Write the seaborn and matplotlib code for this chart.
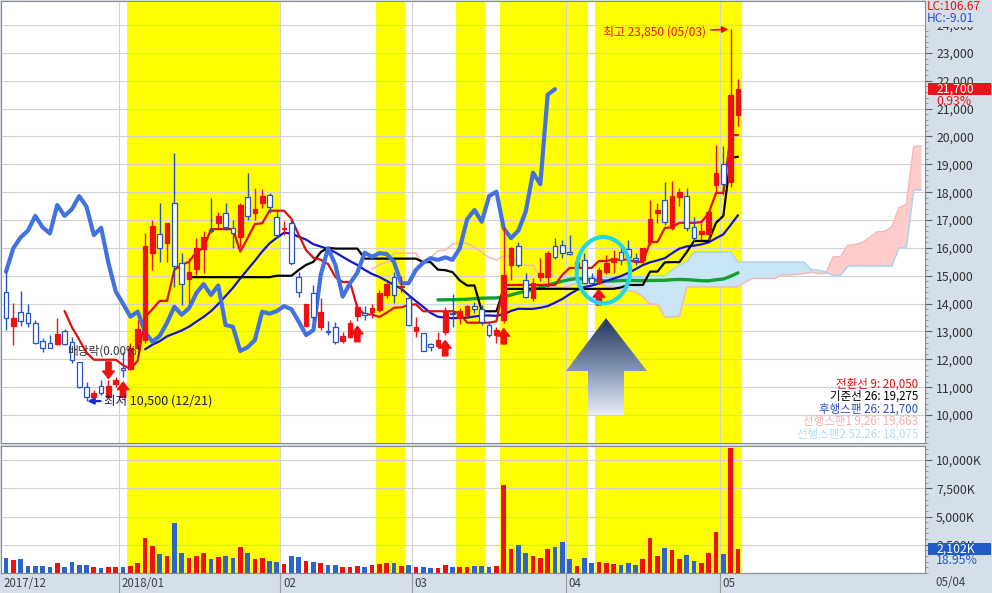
import numpy as np
import pandas as pd
import seaborn as sns
import matplotlib.pyplot as plt
import matplotlib.transforms as mtrans
from matplotlib.patches import Rectangle, Ellipse, Polygon
from matplotlib.colors import LinearSegmentedColormap
from matplotlib.ticker import AutoMinorLocator, FuncFormatter, FixedLocator

# daily candles, 2017/12/06 .. 2018/05/04 (won)
opens = [14430, 13200, 13710, 13650, 13290, 12660, 12575, 12540, 13030, 12630,
         11920, 11020, 10650, 11040, 10660, 11110, 11680, 11650, 12400, 12700,
         15810, 16490, 16190, 17600, 15470, 14870, 15230, 15950, 16660, 16890,
         17240, 16700, 16380, 17840, 17240, 17620, 17900, 17120, 16680, 16880,
         14970, 13210, 14390, 13170, 13000, 13170, 12670, 12810, 13555, 13650,
         13710, 13770, 14310, 14940, 14600, 14190, 13030, 12930, 12540, 12490,
         12990, 13660, 13470, 13590, 13910, 13800, 13230, 12870, 13410, 15390,
         16070, 14850, 14190, 14970, 14970, 16070, 16100, 15860, 15300, 15570,
         14910, 14730, 15150, 15505, 15840, 15950, 15630, 15570, 16220, 17240,
         17720, 16700, 17840, 17860, 16760, 16500, 16500, 18260, 19010, 18380,
         20770]
highs = [15200, 14030, 14450, 13980, 13410, 12750, 12870, 13470, 13080, 12810,
         11920, 11200, 10900, 11260, 11260, 11380, 12270, 12600, 13400, 16530,
         17000, 17600, 16900, 19400, 15810, 15630, 16350, 16620, 17780, 17300,
         17600, 17000, 17600, 18680, 18140, 18100, 17960, 17360, 16950, 17000,
         15150, 14000, 14670, 14190, 13360, 13350, 12990, 13410, 14000, 13900,
         14000, 14490, 14790, 15150, 15000, 14310, 13530, 12950, 12600, 12990,
         13890, 14330, 13830, 13950, 14070, 13950, 13350, 13170, 16760, 16050,
         16200, 15110, 14910, 15630, 15900, 16350, 16280, 16460, 15700, 15810,
         15090, 15330, 15750, 15925, 16050, 16280, 15800, 16000, 17720, 17600,
         18380, 18400, 18140, 18140, 17120, 16900, 17400, 19700, 19660, 23850,
         22050]
lows = [13050, 12510, 13200, 13170, 12550, 12270, 12395, 12510, 12510, 11860,
        10960, 10500, 10600, 10720, 10600, 11020, 11380, 11600, 12300, 12600,
        15200, 15500, 15500, 14610, 13950, 14010, 15030, 15090, 16520, 16700,
        16640, 15990, 16040, 17000, 17000, 17420, 17240, 16345, 16450, 15400,
        14250, 13150, 13400, 13050, 12880, 12550, 12580, 12750, 13380, 13400,
        13500, 13700, 14200, 14010, 14400, 13200, 12800, 12300, 12300, 12400,
        12870, 13170, 13250, 13470, 13680, 13230, 12800, 12580, 13300, 14850,
        15300, 14190, 14100, 14800, 14600, 15600, 15630, 15740, 15100, 14700,
        14700, 14700, 15050, 15090, 15400, 15500, 15400, 15450, 16100, 16900,
        16820, 16640, 17500, 16600, 16250, 16300, 16300, 17960, 17900, 18200,
        20380]
closes = [13500, 13470, 13380, 13290, 12580, 12420, 12400, 12910, 12540, 11980,
          11020, 10660, 10800, 10780, 11040, 11260, 11600, 12400, 13100, 16070,
          16790, 15990, 16880, 15350, 14700, 15150, 15990, 16380, 16620, 17150,
          16740, 16520, 17540, 17150, 17390, 17860, 17480, 16460, 16720, 15450,
          14430, 13990, 13530, 13710, 12980, 12630, 12840, 13310, 13890, 13600,
          13830, 14370, 14700, 14310, 14650, 13230, 13170, 12300, 12430, 12690,
          13710, 13640, 13730, 13910, 13800, 13350, 12870, 13050, 15030, 15990,
          15390, 14250, 14730, 15110, 15830, 15680, 15810, 15780, 15500, 14730,
          14730, 15210, 15470, 15630, 15570, 15660, 15570, 15990, 17030, 17360,
          16940, 17860, 18020, 16700, 16350, 16620, 17300, 18700, 18290, 21500,
          21700]
volumes = [1300, 1150, 1200, 600, 650, 600, 500, 900, 550, 1000,
           700, 750, 500, 450, 550, 500, 500, 600, 900, 3100,
           2400, 1700, 1500, 4400, 1800, 1300, 1500, 1800, 1200, 1400,
           1500, 1300, 2300, 1800, 1200, 1300, 1100, 1000, 800, 1500,
           1400, 1100, 1000, 900, 700, 700, 500, 500, 600, 500,
           700, 800, 900, 900, 600, 700, 500, 500, 400, 450,
           700, 500, 500, 550, 600, 600, 500, 600, 7800, 2100,
           2500, 1800, 1500, 1300, 2100, 2300, 2700, 1200, 600, 1300,
           900, 1000, 900, 800, 700, 900, 700, 1200, 3100, 1500,
           2200, 2000, 1200, 1600, 1100, 900, 1800, 3600, 1700, 11092,
           2102]  # thousand shares

month_labels = ["2017/12", "2018/01", "02", "03", "04", "05"]
month_starts = [0, 16, 38, 56, 77, 98]
last_date = "05/04"
yellow_ranges = [(17, 37), (51, 54), (62, 65), (68, 79), (81, 100)]
buy_signals = [16, 48, 60, 68, 81]
ex_div_idx = 14
low_idx, low_date = 11, "12/21"
high_idx, high_date = 99, "05/03"

sns.set_theme(style="white")
plt.rcParams['font.family'] = ['Noto Sans CJK KR', 'DejaVu Sans']
plt.rcParams['axes.unicode_minus'] = False

n = len(closes)
idx = np.arange(n)
df = pd.DataFrame({"open": opens, "high": highs, "low": lows, "close": closes, "vol": volumes})

# ichimoku (9, 26, 52) shifted 25 bars, moving averages 20/60
shift = 25
tenkan = (df.high.rolling(9).max() + df.low.rolling(9).min()) / 2
kijun = (df.high.rolling(26).max() + df.low.rolling(26).min()) / 2
span1_now = (tenkan + kijun) / 2
span2_now = (df.high.rolling(52).max() + df.low.rolling(52).min()) / 2
ext = np.arange(n + shift)
span1 = np.full(n + shift, np.nan); span1[shift:] = span1_now.values
span2 = np.full(n + shift, np.nan); span2[shift:] = span2_now.values
ma20 = df.close.rolling(20).mean()
ma60 = df.close.rolling(60).mean()

RED = "#ee1111"
BLUE = "#2453c8"
BAND = "#d5dfea"
W, H = 992, 593


def frame(x0, y0, x1, y1):
    return [x0 / W, 1 - y1 / H, (x1 - x0) / W, (y1 - y0) / H]


fig = plt.figure(figsize=(9.92, 5.93), dpi=100, facecolor=BAND)
ax = fig.add_axes(frame(1, 1, 925, 443))
axv = fig.add_axes(frame(1, 446, 925, 573), sharex=ax)

for a in (ax, axv):
    a.set_facecolor("white")
    for s in a.spines.values():
        s.set_color("#8a8a8a")
        s.set_linewidth(0.8)
    for lo, hi in yellow_ranges:
        a.axvspan(lo - 0.5, hi + 0.5, color="#ffff00", lw=0, zorder=0)
    a.xaxis.set_major_locator(FixedLocator([m - 0.5 for m in month_starts[1:]]))
    a.grid(True, color="#d2d2d2", lw=0.8, zorder=0.5)
    a.tick_params(axis="x", labelbottom=False, length=0)
    a.yaxis.tick_right()
    a.tick_params(axis="y", which="major", direction="out", length=5, width=0.8,
                  color="#666666", labelsize=8.8, labelcolor="#333333", pad=3)
    a.tick_params(axis="y", which="minor", direction="out", length=2.5, width=0.6,
                  color="#888888", right=True, left=False)
    a.yaxis.set_minor_locator(AutoMinorLocator(5))
    a.set_axisbelow(True)


def line(x, y, **kw):
    s = pd.Series(np.asarray(y, dtype=float), index=x).dropna()
    sns.lineplot(x=s.index.values, y=s.values, ax=ax, estimator=None, sort=False,
                 legend=False, **kw)


# cloud
ax.fill_between(ext, span1, span2, where=span1 >= span2, interpolate=True,
                color="#ffcccc", lw=0, zorder=1)
ax.fill_between(ext, span1, span2, where=span1 < span2, interpolate=True,
                color="#c8e6f6", lw=0, zorder=1)
line(ext, span1, color="#f6b7b7", lw=1.1, zorder=2)
line(ext, span2, color="#a9d5ee", lw=1.1, zorder=2)

line(idx, ma60, color="#12a030", lw=2.4, zorder=3)
line(idx, ma20, color="#1414c8", lw=1.6, zorder=3)
line(idx, kijun, color="black", lw=1.6, zorder=3)
line(idx, tenkan, color="#e01010", lw=1.6, zorder=3)
line(idx[:n - shift], closes[shift:], color="#4272e2", lw=3, zorder=3)

# candles
up = df.close >= df.open
edge = np.where(up, RED, BLUE)
face = np.where(up, RED, "white")
body_lo = np.minimum(df.open, df.close)
body_h = np.maximum((df.close - df.open).abs(), 35)
ax.vlines(idx, df.low, df.high, colors=edge, lw=1, zorder=5)
ax.bar(idx, body_h, bottom=body_lo, width=0.64, color=face, edgecolor=edge,
       linewidth=0.9, zorder=6)

axv.bar(idx, df.vol, width=0.64, color=np.where(up, RED, "#2c64cc"), lw=0, zorder=3)

# markers and notes
arrow_style = "simple,head_length=0.45,head_width=0.7,tail_width=0.32"
for i in buy_signals:
    ax.annotate("", xy=(i, lows[i]), xytext=(0, -15), textcoords="offset points",
                arrowprops=dict(arrowstyle=arrow_style, color=RED, shrinkA=0, shrinkB=4,
                                mutation_scale=12), zorder=7)
ax.annotate("", xy=(ex_div_idx, highs[ex_div_idx]), xytext=(0, 13), textcoords="offset points",
            arrowprops=dict(arrowstyle=arrow_style, color=RED, shrinkA=0, shrinkB=1,
                            mutation_scale=12), zorder=7)
ax.annotate("배당락(0.00%)", xy=(ex_div_idx, highs[ex_div_idx]), xytext=(-3, 21),
            textcoords="offset points", ha="center", va="center", fontsize=8.4,
            color="#333333", zorder=8)
ax.annotate(f"최저 {lows[low_idx]:,} ({low_date})", xy=(low_idx + 0.1, lows[low_idx]),
            xytext=(12, 0), textcoords="offset points", ha="left", va="center",
            fontsize=9, color="#1a1a50",
            arrowprops=dict(arrowstyle="-|>", color="#1a2ad8", lw=1.6, shrinkA=0,
                            shrinkB=0, mutation_scale=9), zorder=8)
ax.annotate(f"최고 {highs[high_idx]:,} ({high_date})", xy=(high_idx - 0.3, highs[high_idx]),
            xytext=(-16, -2), textcoords="offset points", ha="right", va="center",
            fontsize=8.6, color=RED,
            arrowprops=dict(arrowstyle="-|>", color=RED, lw=1.2, shrinkA=1,
                            shrinkB=0, mutation_scale=9), zorder=8)

ax.add_patch(Ellipse((81.6, 15200), 7.3, 2380, fill=False, edgecolor="#26d6e6",
                     lw=3, zorder=8))

# gradient arrow
def af(px, py):
    return ((px - 1) / 924, (443 - py) / 442)

pts = [af(*p) for p in [(588, 415), (624, 415), (624, 371), (647, 371),
                        (606, 318), (566, 371), (588, 371)]]
poly = Polygon(pts, closed=True, transform=ax.transAxes, fc="none", ec="none")
ax.add_patch(poly)
cmap = LinearSegmentedColormap.from_list("g", ["#26365c", "#7d8fb0", "#e9eef6"])
grad = np.linspace(0, 1, 200).reshape(-1, 1)
x0, y1 = af(566, 318)
x1, y0 = af(647, 415)
im = ax.imshow(grad, cmap=cmap, extent=[x0, x1, y0, y1], transform=ax.transAxes,
               aspect="auto", zorder=7)
im.set_clip_path(poly)

# ichimoku legend
def r(v):
    return f"{int(np.floor(v + 0.5)):,}"

legend_rows = [
    (f"전환선 9: {r(tenkan.iloc[-1])}", "#e01010"),
    (f"기준선 26: {r(kijun.iloc[-1])}", "black"),
    (f"후행스팬 26: {r(closes[-1])}", "#2b4fc8"),
    (f"선행스팬1 9,26: {r(span1_now.iloc[-1])}", "#f4b0b0"),
    (f"선행스팬2 52,26: {r(span2_now.iloc[-1])}", "#b6dcf2"),
]
for k, (txt, c) in enumerate(legend_rows):
    ax.text(0.9925, (443 - (384 + 12.5 * k)) / 442, txt, transform=ax.transAxes,
            ha="right", va="center", fontsize=8.3, color=c, zorder=9)

ax.set_ylim(8995, 24865)
ax.set_xlim(-0.683, 125.55)
ax.yaxis.set_major_locator(FixedLocator(range(10000, 24001, 1000)))
ax.yaxis.set_major_formatter(FuncFormatter(lambda v, p: f"{v:,.0f}"))
axv.set_ylim(0, 11240)
axv.yaxis.set_major_locator(FixedLocator([2500, 5000, 7500, 10000]))
axv.yaxis.set_major_formatter(FuncFormatter(lambda v, p: f"{v:,.0f}K"))

# current price / volume boxes on the right scale
bt = mtrans.blended_transform_factory(ax.transAxes, ax.transData)
ax.add_patch(Rectangle((1.003, closes[-1] - 215), 0.068, 430, transform=bt,
                       fc="#e8141a", ec="none", clip_on=False, zorder=10))
ax.text(1.012, closes[-1], f"{closes[-1]:,}", transform=bt, color="white",
        fontsize=8.8, va="center", ha="left", clip_on=False, zorder=11)
ax.text(1.012, closes[-1] - 430, f"{(closes[-1] / closes[-2] - 1) * 100:.2f}%",
        transform=bt, color=RED, fontsize=8.8, va="center", ha="left", clip_on=False)
btv = mtrans.blended_transform_factory(axv.transAxes, axv.transData)
axv.add_patch(Rectangle((1.003, volumes[-1] - 520), 0.068, 1040, transform=btv,
                        fc="#1f5cc8", ec="none", clip_on=False, zorder=10))
axv.text(1.012, volumes[-1], f"{volumes[-1]:,}K", transform=btv, color="white",
         fontsize=8.8, va="center", ha="left", clip_on=False, zorder=11)
axv.text(1.012, volumes[-1] - 1030, f"{volumes[-1] / volumes[-2] * 100:.2f}%",
         transform=btv, color="#1f5cc8", fontsize=8.8, va="center", ha="left", clip_on=False)

lc = (closes[-1] / min(lows) - 1) * 100
hc = (closes[-1] / max(highs) - 1) * 100
fig.text(927 / W, 1 - 7 / H, f"LC:{lc:.2f}", color=RED, fontsize=8.6, va="center",
         bbox=dict(boxstyle="square,pad=0.1", fc=BAND, ec="none"), zorder=12)
fig.text(927 / W, 1 - 19 / H, f"HC:{hc:.2f}", color="#2453c8", fontsize=8.6, va="center",
         bbox=dict(boxstyle="square,pad=0.1", fc=BAND, ec="none"), zorder=12)

# date labels in the bottom band
bx = mtrans.blended_transform_factory(axv.transData, axv.transAxes)
for lab, m in zip(month_labels, month_starts):
    xpos = m - 0.5 if m > 0 else -0.683
    axv.annotate(lab, xy=(xpos, 0), xycoords=bx, xytext=(1.8, -7.3),
                 textcoords="offset points", ha="left", va="center",
                 fontsize=8.3, color="#404040", annotation_clip=False)
    if m > 0:
        axv.plot([m - 0.5, m - 0.5], [0, -20 / 127], transform=bx, color="#9a9a9a",
                 lw=0.8, clip_on=False)
fig.text(935 / W, 1 - 583 / H, last_date, fontsize=8.3, color="#404040", va="center")

fig.savefig("out.png", dpi=100, facecolor=BAND)
